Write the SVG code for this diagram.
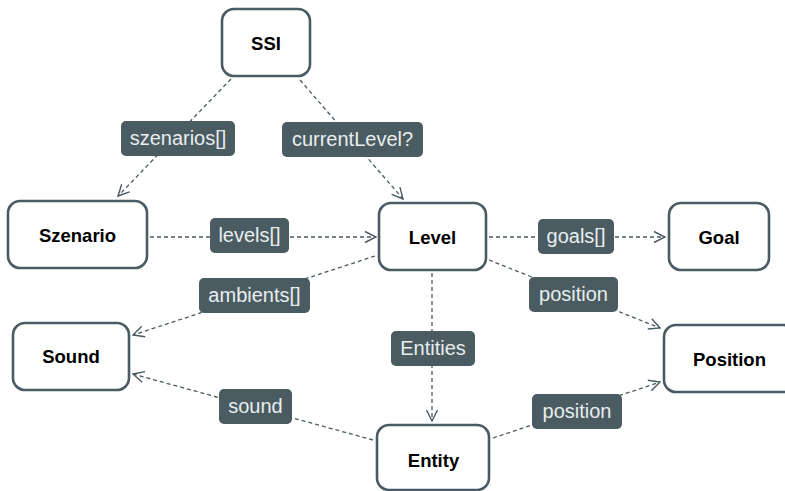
<svg xmlns="http://www.w3.org/2000/svg" width="785" height="491" viewBox="0 0 785 491">
<defs>
<marker id="arr" markerUnits="userSpaceOnUse" markerWidth="14" markerHeight="14" viewBox="0 0 14 14" refX="13" refY="7" orient="auto">
<path d="M2,1.5 L13,7 L2,12.5" fill="none" stroke="#4a5a61" stroke-width="1.4"/>
</marker>
</defs>
<style>
.node rect{fill:#fff;stroke:#4a5b63;stroke-width:2.6}
.node text{font-family:"Liberation Sans",Arial,sans-serif;font-weight:bold;font-size:18.5px;fill:#000;text-anchor:middle;dominant-baseline:central}
.edge{fill:none;stroke:#4a5a61;stroke-width:1.3;stroke-dasharray:4 3;marker-end:url(#arr)}
.lbl rect{fill:#4a5b61}
.lbl text{font-family:"Liberation Sans",Arial,sans-serif;font-size:20px;fill:#e8eef0;text-anchor:middle;dominant-baseline:central}
</style>
<rect width="785" height="491" fill="#fff"/>
<g id="connectors">
<path class="edge" d="M231,79 L118,196"/>
<path class="edge" d="M300,80 L403,199"/>
<path class="edge" d="M150,237 L376,237"/>
<path class="edge" d="M489,237 L665,237"/>
<path class="edge" d="M375,256 L133,335"/>
<path class="edge" d="M489,260 L660,328"/>
<path class="edge" d="M432,273 L432,421"/>
<path class="edge" d="M373,440 L133,374"/>
<path class="edge" d="M493,438 L660,382"/>
<g class="lbl"><rect x="121" y="121" width="114" height="35" rx="5"/><text x="178" y="138">szenarios[]</text></g>
<g class="lbl"><rect x="282" y="122" width="141" height="35" rx="5"/><text x="352.5" y="139">currentLevel?</text></g>
<g class="lbl"><rect x="210" y="218" width="79" height="35" rx="5"/><text x="249.5" y="235">levels[]</text></g>
<g class="lbl"><rect x="538" y="219" width="76" height="35" rx="5"/><text x="576" y="236">goals[]</text></g>
<g class="lbl"><rect x="199" y="278" width="111" height="35" rx="5"/><text x="254.5" y="295">ambients[]</text></g>
<g class="lbl"><rect x="529" y="277" width="89" height="35" rx="5"/><text x="573.5" y="294">position</text></g>
<g class="lbl"><rect x="391" y="331" width="84" height="35" rx="5"/><text x="433" y="348">Entities</text></g>
<g class="lbl"><rect x="219" y="389" width="73" height="35" rx="5"/><text x="255.5" y="406">sound</text></g>
<g class="lbl"><rect x="532" y="394" width="90" height="35" rx="5"/><text x="577" y="411">position</text></g>
</g>
<g id="SSI" class="node"><rect x="222" y="9" width="88" height="67" rx="12"/><text x="266" y="43">SSI</text></g>
<g id="Szenario" class="node"><rect x="8" y="201" width="139" height="67" rx="12"/><text x="77.5" y="235">Szenario</text></g>
<g id="Level" class="node"><rect x="379" y="203" width="107" height="67" rx="12"/><text x="432.5" y="237">Level</text></g>
<g id="Goal" class="node"><rect x="669" y="203" width="100" height="67" rx="12"/><text x="719" y="237">Goal</text></g>
<g id="Sound" class="node"><rect x="13" y="323" width="116" height="67" rx="12"/><text x="71" y="356.5">Sound</text></g>
<g id="Position" class="node"><rect x="664" y="325" width="131" height="67" rx="12"/><text x="729.5" y="359">Position</text></g>
<g id="Entity" class="node"><rect x="377" y="425" width="112" height="65" rx="12"/><text x="433.5" y="460">Entity</text></g>
</svg>
